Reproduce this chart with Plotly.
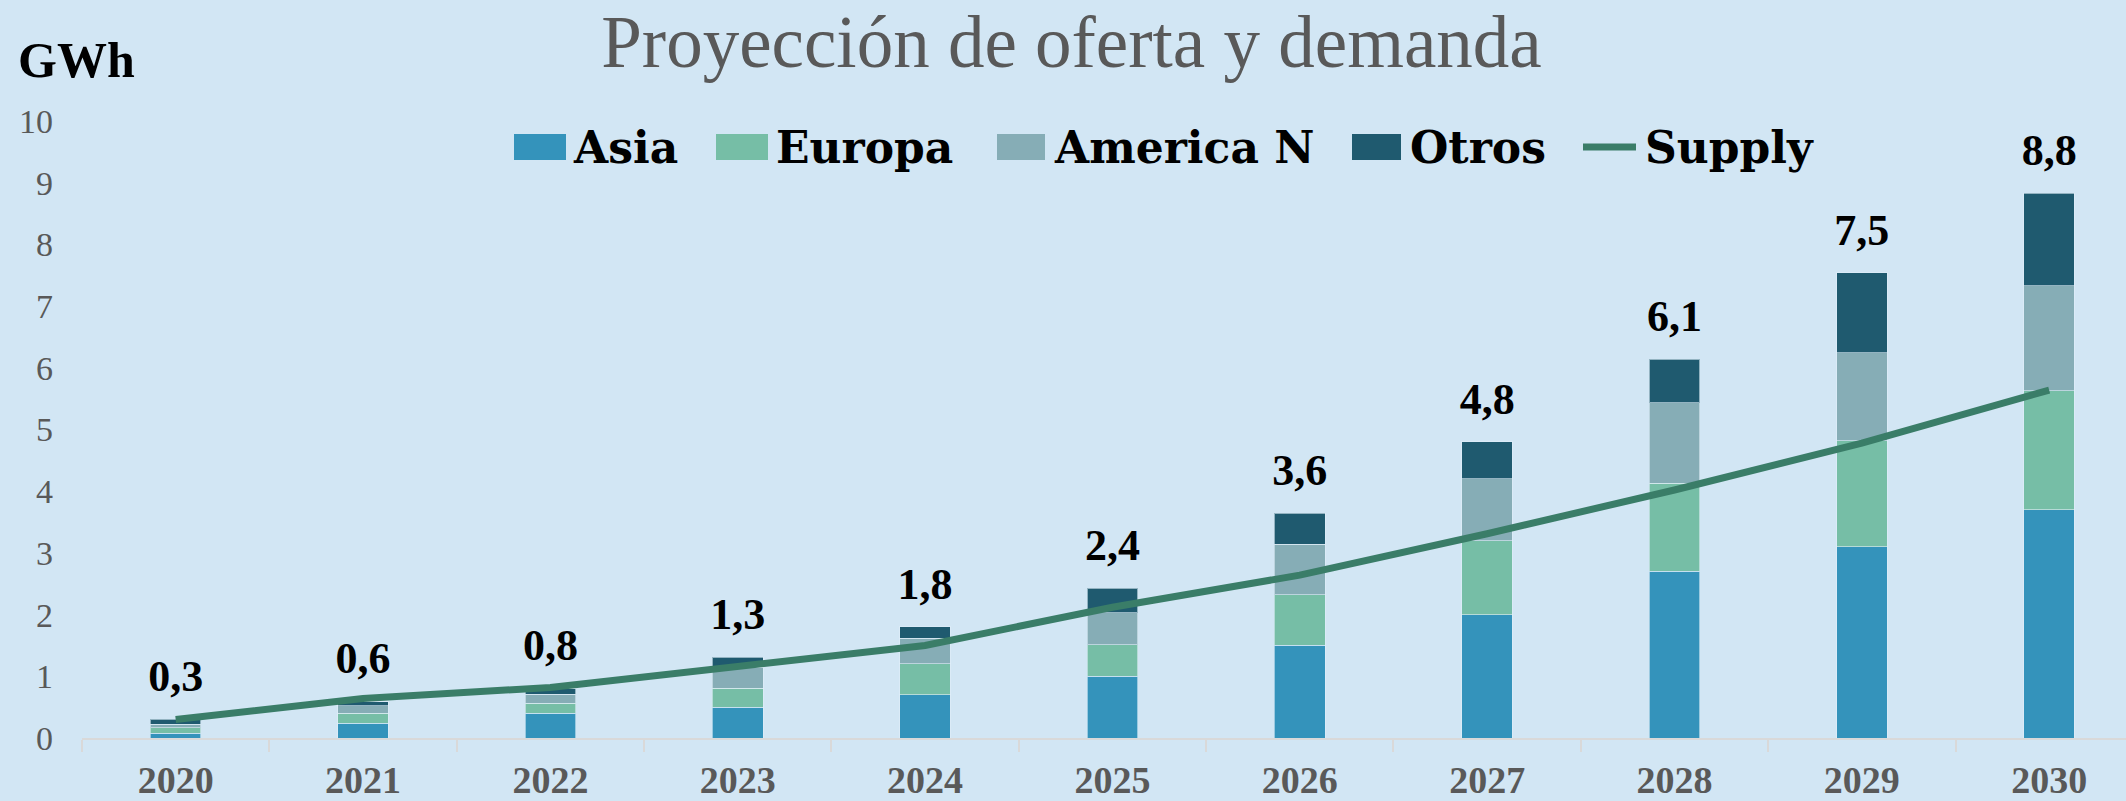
import plotly.graph_objects as go

years = ["2020", "2021", "2022", "2023", "2024", "2025", "2026", "2027", "2028", "2029", "2030"]
asia = [0.08, 0.24, 0.40, 0.50, 0.70, 1.00, 1.50, 2.00, 2.70, 3.10, 3.70]
europa = [0.09, 0.16, 0.16, 0.31, 0.50, 0.51, 0.82, 1.20, 1.43, 1.72, 1.93]
america_n = [0.05, 0.12, 0.15, 0.34, 0.42, 0.52, 0.82, 1.00, 1.30, 1.42, 1.70]
otros = [0.08, 0.07, 0.09, 0.16, 0.18, 0.40, 0.50, 0.60, 0.71, 1.30, 1.50]
supply = [0.30, 0.64, 0.82, 1.15, 1.50, 2.12, 2.64, 3.31, 4.02, 4.78, 5.64]
y_ticks = list(range(0, 11))
series_names = ["Asia", "Europa", "America N", "Otros"]
line_name = "Supply"

totals = [round(a + e + n + o, 2) for a, e, n, o in zip(asia, europa, america_n, otros)]
total_labels = [f"{t:.1f}".replace(".", ",") for t in totals]

BG = "#D2E6F4"
GREY = "#595959"
SERIF = "Liberation Serif"
COLORS = ["#3493BB", "#76BEA6", "#86ADB6", "#1F5A6F"]
LINE_COLOR = "#3A7D68"

W, H = 2126, 801
ML, MR, MT, MB = 82, 0, 121, 63
PW, PH = W - ML - MR, H - MT - MB


def px_x(px):
    return (px - ML) / PW


def px_y(py):
    return (H - MB - py) / PH


fig = go.Figure()
for name, vals, col in zip(series_names, [asia, europa, america_n, otros], COLORS):
    fig.add_trace(go.Bar(
        x=years, y=vals, name=name, showlegend=False,
        marker=dict(color=col, line=dict(color="rgba(225,238,248,0.6)", width=1)),
        hoverinfo="skip",
    ))

fig.add_trace(go.Scatter(
    x=years, y=supply, name=line_name, mode="lines", showlegend=False,
    line=dict(color=LINE_COLOR, width=7),
))

fig.add_trace(go.Scatter(
    x=years, y=totals, mode="markers+text", text=total_labels,
    textposition="top center",
    marker=dict(size=26, opacity=0),
    textfont=dict(family=SERIF, size=44, color="black", weight="bold"),
    showlegend=False, hoverinfo="skip", cliponaxis=False,
))

# custom legend (large swatches like the reference)
legend_rects = [(514, 566), (716, 768), (997, 1045), (1352, 1401)]
legend_text_x = [571, 774, 1052, 1408]
LEG_Y = 147
shapes = []
annotations = []
for (x0, x1), tx, name, col in zip(legend_rects, legend_text_x, series_names, COLORS):
    shapes.append(dict(type="rect", xref="paper", yref="paper",
                       x0=px_x(x0), x1=px_x(x1), y0=px_y(LEG_Y + 13), y1=px_y(LEG_Y - 13),
                       fillcolor=col, line=dict(width=0), layer="above"))
    annotations.append(dict(text=name, xref="paper", yref="paper", x=px_x(tx), y=px_y(LEG_Y),
                            xanchor="left", yanchor="middle", showarrow=False,
                            font=dict(family="DejaVu Serif", size=44, color="black", weight="bold")))
shapes.append(dict(type="line", xref="paper", yref="paper",
                   x0=px_x(1583), x1=px_x(1636), y0=px_y(LEG_Y), y1=px_y(LEG_Y),
                   line=dict(color=LINE_COLOR, width=7), layer="above"))
annotations.append(dict(text=line_name, xref="paper", yref="paper", x=px_x(1643), y=px_y(LEG_Y),
                        xanchor="left", yanchor="middle", showarrow=False,
                        font=dict(family="DejaVu Serif", size=44, color="black", weight="bold")))

annotations.append(dict(text="<b>GWh</b>", xref="paper", yref="paper",
                        x=px_x(16), y=px_y(60), xanchor="left", yanchor="middle",
                        showarrow=False,
                        font=dict(family=SERIF, size=50, color="black")))

fig.update_layout(
    width=W, height=H,
    margin=dict(l=ML, r=MR, t=MT, b=MB),
    paper_bgcolor=BG, plot_bgcolor=BG,
    barmode="stack", bargap=0.73, showlegend=False,
    title=dict(text="Proyección de oferta y demanda", x=0.504, xanchor="center",
               y=1 - 41 / H, yanchor="middle",
               font=dict(family=SERIF, size=73, color=GREY)),
    xaxis=dict(type="category", range=[-0.5, 10.41], tickson="boundaries",
               ticks="outside", ticklen=12, tickwidth=2, tickcolor="#D9D9D9",
               showline=True, linecolor="#D9D9D9", linewidth=2, showgrid=False,
               tickfont=dict(family=SERIF, size=38, color=GREY, weight="bold"),
               ticklabelstandoff=7, automargin=False),
    yaxis=dict(range=[0, 10], tickvals=y_ticks, showgrid=False, zeroline=False,
               showline=False, ticks="", ticklabelstandoff=28,
               tickfont=dict(family=SERIF, size=34, color=GREY), automargin=False),
    shapes=shapes,
    annotations=annotations,
)

fig.write_html("out.html",
               config={"displayModeBar": False},
               post_script="document.body.style.margin='0';document.body.style.overflow='hidden';"
                           "document.body.style.background='" + BG + "';")
